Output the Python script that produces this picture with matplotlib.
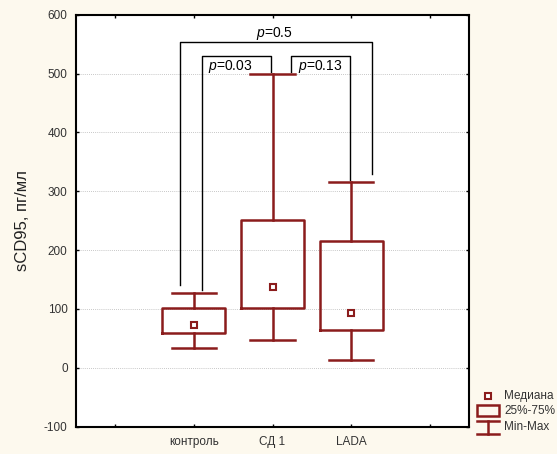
import numpy as np
import matplotlib.pyplot as plt
from matplotlib.lines import Line2D
from matplotlib.patches import Rectangle

plt.rcParams['font.family'] = ['Liberation Sans', 'DejaVu Sans']
plt.rcParams['mathtext.fontset'] = 'custom'
plt.rcParams['mathtext.it'] = 'Liberation Sans:italic'
plt.rcParams['mathtext.rm'] = 'Liberation Sans'
plt.rcParams['axes.unicode_minus'] = False

groups = ["контроль", "СД 1", "LADA"]
mins = [33, 47, 14]
q1s = [59, 102, 64]
medians = [73, 137, 93]
q3s = [102, 251, 216]
maxs = [128, 499, 316]

# significance brackets: (x left, x right, y top, y left end, y right end, label, label x, label y)
brackets = [
    (0.82, 3.26, 554, 141, 330, "0.5", 2.02, 568),
    (1.10, 1.98, 530, 132, 503, "0.03", 1.46, 512),
    (2.23, 2.99, 530, 502, 320, "0.13", 2.61, 512),
]

box_color = "#8b1c1c"
bg = "#fdf9ee"
txt_color = "#333333"


def main():
    fig = plt.figure(figsize=(5.57, 4.54), dpi=100, facecolor=bg)
    ax = fig.add_axes([76 / 557, 1 - 426.7 / 454, 393 / 557, 412 / 454])

    pos = [1, 2, 3]
    stats = []
    for i, g in enumerate(groups):
        stats.append(dict(label=g, med=medians[i], q1=q1s[i], q3=q3s[i],
                          whislo=mins[i], whishi=maxs[i], fliers=[]))

    lp = dict(color=box_color, linewidth=1.8)
    ax.bxp(stats, positions=pos, widths=0.8, capwidths=0.56, showfliers=False,
           boxprops=lp, whiskerprops=lp, capprops=lp,
           medianprops=dict(linestyle="none"), manage_ticks=False, zorder=3)
    ax.plot(pos, medians, "s", ms=5, mfc="white", mec=box_color, mew=1.5, zorder=4)

    for xl, xr, yt, yl, yr, lab, tx, ty in brackets:
        ax.plot([xl, xl, xr, xr], [yl, yt, yt, yr], color="black", lw=1.0, zorder=2)
        ax.text(tx, ty, r"$p$=" + lab, ha="center", va="center", fontsize=10,
                zorder=5)

    ax.set_xlim(-0.5, 4.5)
    ax.set_ylim(-100, 600)
    ax.set_xticks([0, 1, 2, 3, 4])
    ax.set_xticklabels([""] + groups + [""], fontsize=8.5, color=txt_color)
    ax.set_yticks(np.arange(-100, 601, 100))
    ax.tick_params(axis="y", labelsize=8.5, pad=6, labelcolor=txt_color)
    ax.tick_params(axis="x", pad=7)
    ax.tick_params(direction="in", length=2, width=1, top=True, right=True)
    for y in range(0, 501, 100):
        ax.axhline(y, color="#b5b5b5", lw=0.6, ls=(0, (1, 1.5)), zorder=1)
    for s in ax.spines.values():
        s.set_linewidth(1.5)
    ax.set_ylabel("sCD95, пг/мл", fontsize=12, color="#222222")
    ax.yaxis.set_label_coords(-0.118, 0.5)

    # legend drawn outside the axes, in pixel coordinates of the figure
    H = 454.0

    def fy(y):
        return 1 - y / H

    def fx(x):
        return x / 557.0

    fig.add_artist(Line2D([fx(488)], [fy(396)], marker="s", ms=5, mfc="white",
                          mec=box_color, mew=1.5, transform=fig.transFigure))
    fig.add_artist(Rectangle((fx(477), fy(416)), fx(22), 11 / H, fill=False,
                             ec=box_color, lw=1.8, transform=fig.transFigure))
    fig.add_artist(Line2D([fx(488), fx(488)], [fy(421), fy(434)], color=box_color,
                          lw=1.8, transform=fig.transFigure))
    for yy in (421, 434):
        fig.add_artist(Line2D([fx(477), fx(499)], [fy(yy), fy(yy)], color=box_color,
                              lw=1.8, transform=fig.transFigure))
    for txt, yy in (("Медиана", 396), ("25%-75%", 411), ("Min-Max", 427)):
        fig.text(fx(504), fy(yy), txt, fontsize=8.5, va="center", ha="left",
                 color=txt_color)

    fig.savefig("out.png", dpi=100, facecolor=bg)


if __name__ == "__main__":
    main()
